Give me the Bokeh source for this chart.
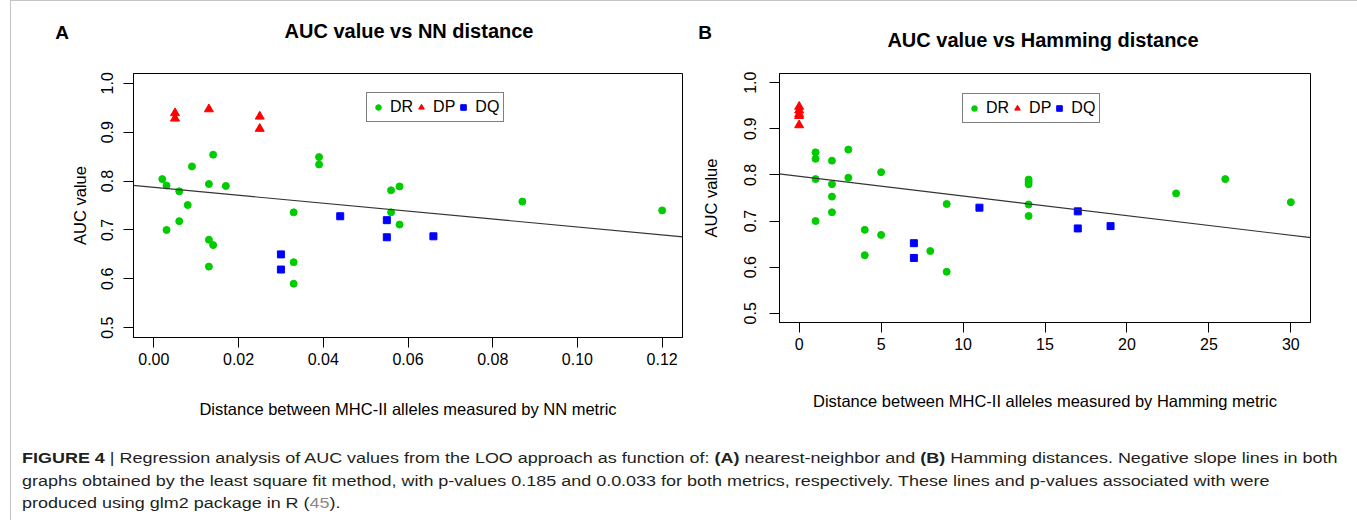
from bokeh.plotting import figure
from bokeh.models import (Range1d, FixedTicker, NumeralTickFormatter, Slope, Legend,
                          LegendItem, Div)
from bokeh.layouts import row, column
from bokeh.embed import file_html
from bokeh.resources import INLINE

# ---------------- data ----------------
# Panel A: AUC vs NN distance
A_DR_x = [0.002, 0.003, 0.003, 0.006, 0.006, 0.008, 0.009, 0.013, 0.013, 0.013, 0.014, 0.014,
          0.017, 0.033, 0.033, 0.033, 0.039, 0.039, 0.056, 0.056, 0.058, 0.058, 0.087, 0.120]
A_DR_y = [0.804, 0.791, 0.700, 0.779, 0.718, 0.751, 0.830, 0.794, 0.680, 0.625, 0.854, 0.669,
          0.790, 0.736, 0.634, 0.590, 0.849, 0.834, 0.781, 0.736, 0.789, 0.711, 0.758, 0.740]
A_DP_x = [0.005, 0.005, 0.013, 0.025, 0.025]
A_DP_y = [0.939, 0.928, 0.947, 0.932, 0.907]
A_DQ_x = [0.030, 0.030, 0.044, 0.055, 0.055, 0.066]
A_DQ_y = [0.650, 0.619, 0.728, 0.720, 0.685, 0.687]
A_fit_intercept = 0.787
A_fit_slope = -0.809
A_xticks = [0.00, 0.02, 0.04, 0.06, 0.08, 0.10, 0.12]

# Panel B: AUC vs Hamming distance
B_DR_x = [1, 1, 1, 1, 2, 2, 2, 2, 3, 3, 4, 4, 5, 5, 8, 9, 9, 14, 14, 14, 14, 14, 23, 26, 30]
B_DR_y = [0.849, 0.835, 0.791, 0.700, 0.831, 0.780, 0.753, 0.719, 0.855, 0.794, 0.681, 0.626,
          0.806, 0.670, 0.635, 0.737, 0.590, 0.790, 0.785, 0.780, 0.736, 0.711, 0.760, 0.791, 0.741]
B_DP_x = [0, 0, 0, 0, 0]
B_DP_y = [0.948, 0.940, 0.932, 0.928, 0.908]
B_DQ_x = [7, 7, 11, 17, 17, 19]
B_DQ_y = [0.652, 0.620, 0.729, 0.721, 0.684, 0.689]
B_fit_intercept = 0.797
B_fit_slope = -0.00426
B_xticks = [0, 5, 10, 15, 20, 25, 30]

y_ticks = [0.5, 0.6, 0.7, 0.8, 0.9, 1.0]
series_names = ["DR", "DP", "DQ"]
series_colors = ["#00CD00", "#FF0000", "#0000FF"]
series_markers = ["circle", "triangle", "square"]
series_sizes = [7, 9, 7]
titles = ["AUC value vs NN distance", "AUC value vs Hamming distance"]
letters = ["A", "B"]

FONT = "Liberation Sans"


def style_axes(p, xfmt, ylab_standoff, ytick_standoff, xlab_standoff):
    for ax in (p.xaxis[0], p.yaxis[0]):
        ax.major_tick_in = 0
        ax.major_tick_out = 10
        ax.minor_tick_line_color = None
        ax.axis_line_color = "black"
        ax.major_tick_line_color = "black"
        ax.major_label_text_font = FONT
        ax.major_label_text_font_size = "16px"
        ax.major_label_text_color = "black"
        ax.axis_label_text_font = FONT
        ax.axis_label_text_font_size = "16.5px"
        ax.axis_label_text_font_style = "normal"
        ax.axis_label_text_color = "black"
    p.xaxis[0].formatter = NumeralTickFormatter(format=xfmt)
    p.yaxis[0].formatter = NumeralTickFormatter(format="0.0")
    p.yaxis[0].ticker = FixedTicker(ticks=y_ticks)
    p.yaxis[0].major_label_orientation = "parallel"
    p.xaxis[0].major_label_standoff = 5
    p.xaxis[0].axis_label_standoff = xlab_standoff
    p.yaxis[0].major_label_standoff = ytick_standoff
    p.yaxis[0].axis_label_standoff = ylab_standoff
    p.xgrid.grid_line_color = None
    p.ygrid.grid_line_color = None
    p.outline_line_color = "black"
    p.outline_line_width = 1
    p.outline_line_alpha = 1


def add_series(p, xs, ys, loc):
    items = []
    for (x, y), name, col, mk, sz in zip(zip(xs, ys), series_names, series_colors,
                                         series_markers, series_sizes):
        r = p.scatter(x, y, marker=mk, size=sz, fill_color=col, line_color=col)
        items.append(LegendItem(label=name, renderers=[r]))
    leg = Legend(items=items, orientation="horizontal", location=loc,
                 glyph_width=14, glyph_height=14, label_standoff=5, spacing=1,
                 padding=4, margin=0, border_line_color="black", border_line_width=1,
                 label_text_font=FONT, label_text_font_size="16px",
                 label_text_color="black", label_height=20,
                 background_fill_color="white", background_fill_alpha=1)
    p.add_layout(leg, "center")


# ---------------- header (panel letters + titles) ----------------
def span(text, left, top, size):
    return (f"<span style=\"position:absolute;left:{left}px;top:{top}px;"
            f"transform:translate(-50%,-50%);white-space:nowrap;font-family:'{FONT}';"
            f"font-weight:bold;font-size:{size}px;color:#000;\">{text}</span>")


header_html = ("<div style=\"position:relative;width:1341px;height:50px;\">"
               + span(letters[0], 46, 27, 19) + span(titles[0], 393, 25, 20)
               + span(letters[1], 689, 27, 19) + span(titles[1], 1027, 34, 20)
               + "</div>")
header = Div(text=header_html, width=1341, height=50)

# ---------------- panel A ----------------
pA = figure(frame_width=549, frame_height=264, min_border_left=122, min_border_right=8,
            min_border_top=4, min_border_bottom=89, output_backend="svg",
            toolbar_location=None, x_range=Range1d(-0.0048, 0.1248),
            y_range=Range1d(0.48, 1.02),
            x_axis_label="Distance between MHC-II alleles measured by NN metric",
            y_axis_label="AUC value")
pA.xaxis[0].ticker = FixedTicker(ticks=A_xticks)
style_axes(pA, "0.00", 10, 10, 32)
pA.add_layout(Slope(gradient=A_fit_slope, y_intercept=A_fit_intercept,
                    line_color="#333333", line_width=1.2))
add_series(pA, [A_DR_x, A_DP_x, A_DQ_x], [A_DR_y, A_DP_y, A_DQ_y], (233, 215))

# ---------------- panel B ----------------
pB = figure(frame_width=531, frame_height=249, min_border_left=89, min_border_right=42,
            min_border_top=12, min_border_bottom=96, output_backend="svg",
            toolbar_location=None, x_range=Range1d(-1.2, 31.2),
            y_range=Range1d(0.48, 1.02),
            x_axis_label="Distance between MHC-II alleles measured by Hamming metric",
            y_axis_label="AUC value")
pB.xaxis[0].ticker = FixedTicker(ticks=B_xticks)
style_axes(pB, "0", 22, 13, 39)
pB.add_layout(Slope(gradient=B_fit_slope, y_intercept=B_fit_intercept,
                    line_color="#333333", line_width=1.2))
add_series(pB, [B_DR_x, B_DP_x, B_DQ_x], [B_DR_y, B_DP_y, B_DQ_y], (183, 199))

# ---------------- caption ----------------
cap_html = (
    "<div style=\"transform:scaleX(1.283);transform-origin:0 0;white-space:nowrap;"
    "font-family:'Liberation Sans';font-size:14px;line-height:22.7px;color:#231f20;\">"
    "<b>FIGURE 4</b> | Regression analysis of AUC values from the LOO approach as function of: "
    "<b>(A)</b> nearest-neighbor and <b>(B)</b> Hamming distances. Negative slope lines in both<br>"
    "graphs obtained by the least square fit method, with p-values 0.185 and 0.0.033 for both "
    "metrics, respectively. These lines and p-values associated with were<br>"
    "produced using glm2 package in R (<span style=\"color:#8a8a8a\">45</span>).</div>"
)
caption = Div(text=cap_html, width=1320, height=92,
              styles={"padding-top": "24px", "padding-left": "6px"})

layout = column(header, row(pA, pB), caption, margin=(0, 0, 0, 10),
                styles={"border-left": "1px solid #c4c4c4", "border-top": "1px solid #c4c4c4",
                        "border-right": "1px solid #c4c4c4"})

open("out.html", "w").write(file_html(layout, INLINE))
